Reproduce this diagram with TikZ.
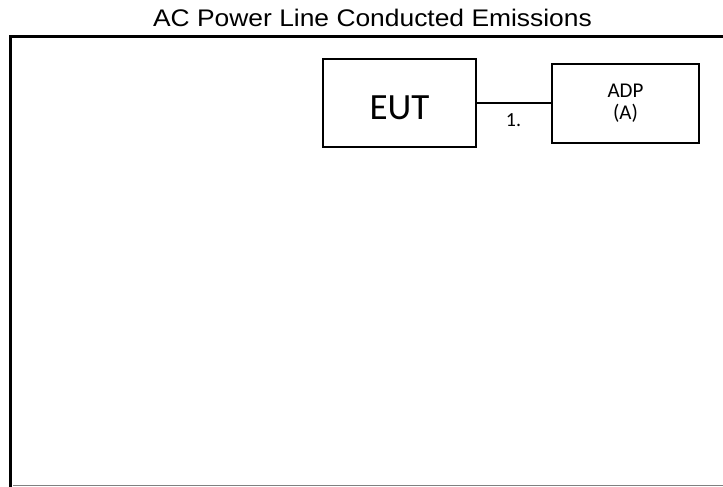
\documentclass[tikz,border=0pt]{standalone}
\usepackage{fontspec}
\setmainfont{Liberation Sans}
\newfontfamily\calib{Carlito}
\begin{document}
\begin{tikzpicture}[x=1pt,y=-1pt,
  boxnode/.style={draw=black, line width=2pt, inner sep=0pt, fill=white},
  frameline/.style={line width=3pt, black},
  link/.style={line width=2pt, black}]
\useasboundingbox (0,0) rectangle (723,487);
% frame
\coordinate (fl) at (11.5,487);
\coordinate (ftl) at (10,36.5);
\coordinate (ftr) at (723,36.5);
\coordinate (fbl) at (13,485.5);
\coordinate (fbr) at (723,485.5);
\draw[line width=1.5pt, gray] (fbl) -- (fbr);
\draw[frameline] (ftr) -- (ftl) -- (ftl |- fl);
% title
\node[font=\fontsize{24}{28}\selectfont, anchor=base, xscale=1.1, inner sep=0pt] (title) at (372.5,27) {AC Power Line Conducted Emissions};
% boxes
\node[boxnode, minimum width=153pt, minimum height=88pt, font=\calib\fontsize{37}{40}\selectfont, text height=34pt] (eut) at (399.5,103) {EUT};
\node[boxnode, minimum width=147pt, minimum height=79pt, font=\calib\fontsize{21}{22}\selectfont, align=center] (adp) at (625.5,103.5) {ADP\\(A)};
\draw[link] (eut.east) -- (eut.east -| adp.west);
\node[font=\calib\fontsize{20}{22}\selectfont, anchor=base, inner sep=0pt] (num) at (513.5,126) {1.};
\end{tikzpicture}
\end{document}
